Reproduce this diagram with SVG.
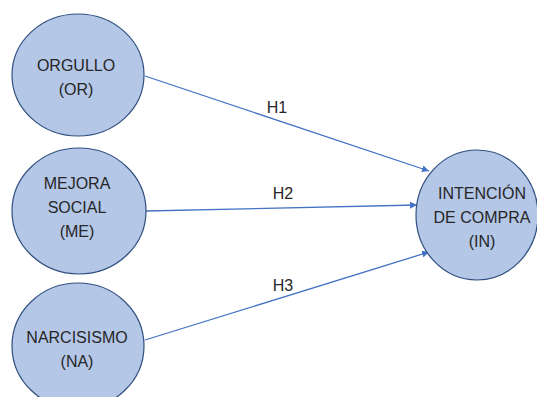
<svg xmlns="http://www.w3.org/2000/svg" width="537" height="397" viewBox="0 0 537 397">
<style>
.node{fill:#B4C7E7;stroke:#2F4F7F;stroke-width:1.2}
.t{font-family:"Liberation Sans",Arial,sans-serif;font-size:16px;fill:#262626;text-anchor:middle}
.e{stroke:#4472C4;stroke-width:1.3;fill:none;marker-end:url(#ah)}
</style>
<defs>
<marker id="ah" viewBox="0 0 10 10" refX="10" refY="5" markerWidth="7" markerHeight="7" markerUnits="userSpaceOnUse" orient="auto">
<path d="M0,0 L10,5 L0,10 z" fill="#4472C4"/>
</marker>
</defs>
<rect width="537" height="397" fill="#FFFFFF"/>
<g id="connectors">
<line class="e" x1="145" y1="76" x2="429" y2="171"/>
<text class="t" x="277" y="113">H1</text>
<line class="e" x1="146" y1="211" x2="417" y2="205"/>
<text class="t" x="283" y="199">H2</text>
<line class="e" x1="145" y1="340" x2="429" y2="252"/>
<text class="t" x="283" y="291">H3</text>
</g>
<g id="OR">
<ellipse class="node" cx="78" cy="75" rx="66" ry="61"/>
<text class="t" x="76" y="71">ORGULLO</text>
<text class="t" x="76" y="95">(OR)</text>
</g>
<g id="ME">
<ellipse class="node" cx="79" cy="211" rx="67" ry="63"/>
<text class="t" x="77" y="189">MEJORA</text>
<text class="t" x="77" y="213">SOCIAL</text>
<text class="t" x="77" y="237">(ME)</text>
</g>
<g id="NA">
<ellipse class="node" cx="78" cy="346" rx="66" ry="63"/>
<text class="t" x="77" y="343">NARCISISMO</text>
<text class="t" x="77" y="367">(NA)</text>
</g>
<g id="IN">
<ellipse class="node" cx="477" cy="215" rx="61" ry="65"/>
<text class="t" x="482" y="199">INTENCIÓN</text>
<text class="t" x="482" y="223">DE COMPRA</text>
<text class="t" x="482" y="247">(IN)</text>
</g>
</svg>
